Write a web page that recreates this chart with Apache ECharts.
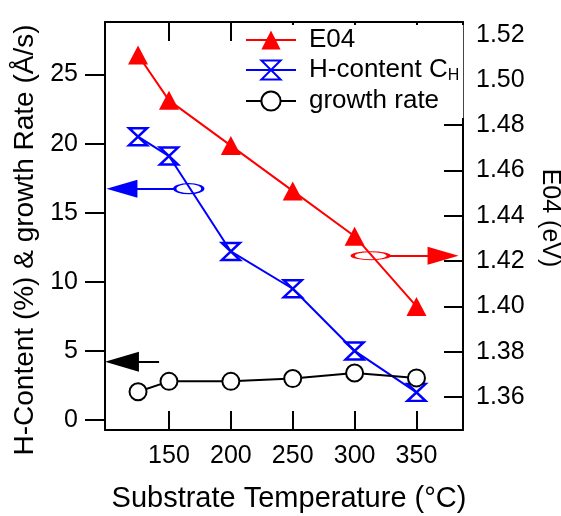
<!DOCTYPE html>
<html>
<head>
<meta charset="utf-8">
<title>E04 / H-content / growth rate</title>
<style>
  html, body { margin: 0; padding: 0; background: #fff; }
  #main { width: 561px; height: 516px; }
</style>
</head>
<body>
<div id="main"></div>
<script src="https://cdn.jsdelivr.net/npm/echarts@6/dist/echarts.min.js"></script>
<script>
// substrate temperature (°C)
var temps = [125, 150, 200, 250, 300, 350];
// optical gap E04 (eV), right axis
var e04 = [1.511, 1.491, 1.471, 1.451, 1.431, 1.400];
// hydrogen content (%), left axis
var hContent = [20.5, 19.1, 12.2, 9.5, 5.0, 2.0];
// growth rate (Å/s), left axis
var growthRate = [2.05, 2.8, 2.8, 3.0, 3.4, 3.05];

var xTicks = [150, 200, 250, 300, 350];
var leftTicks = [0, 5, 10, 15, 20, 25];
var rightTicks = [1.36, 1.38, 1.40, 1.42, 1.44, 1.46, 1.48, 1.50, 1.52];

// annotation arrows (data units): ellipse centre, arrow start, arrow end
var blueNote = { ring: [166, 16.74], from: [155, 16.74], to: [112, 16.74] };
var blackNote = { from: [142, 4.22], to: [112, 4.22] };
var redNote = { ring: [313, 1.4224], from: [328, 1.4224], to: [371.5, 1.4224] };

function pairs(xs, ys) {
  return xs.map(function (x, i) { return [x, ys[i]]; });
}

var font = 'Liberation Sans, Arial, Helvetica, sans-serif';
var hourglass = 'path://M1,1 L19,1 L1,17 L19,17 Z';

var myChart = echarts.init(document.getElementById('main'), null, { renderer: 'canvas' });

// one arrow: plain line from note.from, triangle head at note.to
function arrow(note, color, headSize) {
  var head = { color: color, borderColor: color, borderWidth: 0 };
  return [
    { coord: note.from, symbol: 'none', lineStyle: { color: color, width: 2, type: 'solid' }, itemStyle: head },
    { coord: note.to, symbol: 'triangle', symbolSize: headSize || [18, 31], itemStyle: head }
  ];
}

function arrows(list) {
  return {
    silent: true,
    animation: false,
    symbol: ['none', 'triangle'],
    lineStyle: { width: 2, type: 'solid' },
    label: { show: false },
    emphasis: { disabled: true },
    data: list
  };
}

function ring(note, color, size) {
  return {
    silent: true,
    animation: false,
    symbol: 'circle',
    symbolSize: size,
    itemStyle: { color: 'none', borderColor: color, borderWidth: 2 },
    label: { show: false },
    data: [{ coord: note.ring }]
  };
}

myChart.setOption({
  animation: false,
  backgroundColor: '#fff',
  textStyle: { fontFamily: font },
  grid: { left: 105, right: 98, top: 22, bottom: 86, outerBoundsMode: 'none', containLabel: false },
  legend: {
    left: 233,
    top: 25,
    orient: 'vertical',
    selectedMode: false,
    backgroundColor: '#fff',
    padding: [2, 4, 4, 12],
    itemWidth: 50,
    itemHeight: 24,
    itemGap: 4,
    formatter: function (name) {
      return name === 'H-content CH' ? 'H-content C{sub|H}' : name;
    },
    textStyle: {
      fontSize: 26,
      color: '#000',
      fontFamily: font,
      padding: [0, 0, 0, 8],
      rich: {
        sub: { fontSize: 16, fontFamily: font, color: '#000', padding: [12, 0, 0, 0] }
      }
    },
    data: ['E04', 'H-content CH', 'growth rate']
  },
  xAxis: [{
    type: 'value',
    min: 98.3,
    max: 387.6,
    position: 'bottom',
    name: 'Substrate Temperature (°C)',
    nameLocation: 'middle',
    nameGap: 54,
    nameTextStyle: { fontSize: 29, color: '#000', fontFamily: font, padding: [0, 0, 0, 10] },
    axisLine: { onZero: false, lineStyle: { color: '#000', width: 2 } },
    axisTick: { inside: true, length: 19, lineStyle: { color: '#000', width: 2 }, customValues: xTicks },
    axisLabel: { fontSize: 25, color: '#000', margin: 14, fontFamily: font, customValues: xTicks },
    splitLine: { show: false }
  }, {
    type: 'value',
    min: 98.3,
    max: 387.6,
    position: 'top',
    axisLine: { onZero: false, lineStyle: { color: '#000', width: 2 } },
    axisTick: { inside: true, length: 19, lineStyle: { color: '#000', width: 2 }, customValues: xTicks },
    axisLabel: { show: false },
    splitLine: { show: false }
  }],
  yAxis: [{
    type: 'value',
    min: -0.72,
    max: 28.8,
    position: 'left',
    name: 'H-Content (%) & growth Rate (Å/s)',
    nameLocation: 'middle',
    nameGap: 66,
    nameTextStyle: { fontSize: 28, color: '#000', fontFamily: font, padding: [0, 28, 0, 0] },
    axisLine: { show: true, onZero: false, lineStyle: { color: '#000', width: 2 } },
    axisTick: { show: true, length: 20, lineStyle: { color: '#000', width: 2 }, customValues: leftTicks },
    axisLabel: { fontSize: 25, color: '#000', margin: 27, fontFamily: font, customValues: leftTicks },
    splitLine: { show: false }
  }, {
    type: 'value',
    min: 1.3454,
    max: 1.5256,
    position: 'right',
    name: 'E04 (eV)',
    nameLocation: 'middle',
    nameRotate: -90,
    nameGap: 74,
    nameTextStyle: { fontSize: 25, color: '#000', fontFamily: font, padding: [0, 16, 0, 0] },
    axisLine: { show: true, onZero: false, lineStyle: { color: '#000', width: 2 } },
    axisTick: { show: true, inside: true, length: 19, lineStyle: { color: '#000', width: 2 }, customValues: rightTicks },
    axisLabel: {
      fontSize: 25, color: '#000', margin: 13, fontFamily: font, customValues: rightTicks,
      formatter: function (v) { return v.toFixed(2); }
    },
    splitLine: { show: false }
  }],
  series: [{
    name: 'E04',
    type: 'line',
    yAxisIndex: 1,
    data: pairs(temps, e04),
    symbol: 'triangle',
    symbolSize: [20, 19],
    lineStyle: { color: '#ff0000', width: 2 },
    itemStyle: { color: '#ff0000' },
    markLine: arrows([arrow(redNote, '#ff0000')]),
    markPoint: ring(redNote, '#ff0000', [36, 8])
  }, {
    name: 'H-content CH',
    type: 'line',
    data: pairs(temps, hContent),
    symbol: hourglass,
    symbolSize: [18, 17],
    lineStyle: { color: '#0000ff', width: 2 },
    itemStyle: { color: 'none', borderColor: '#0000ff', borderWidth: 2.5 },
    markLine: arrows([arrow(blueNote, '#0000ff'), arrow(blackNote, '#000000', [20, 34])]),
    markPoint: ring(blueNote, '#0000ff', [28, 10])
  }, {
    name: 'growth rate',
    type: 'line',
    data: pairs(temps, growthRate),
    symbol: 'emptyCircle',
    symbolSize: 17,
    showAllSymbol: true,
    lineStyle: { color: '#000', width: 2 },
    itemStyle: { color: '#000', borderWidth: 2 }
  }]
});
</script>
</body>
</html>
